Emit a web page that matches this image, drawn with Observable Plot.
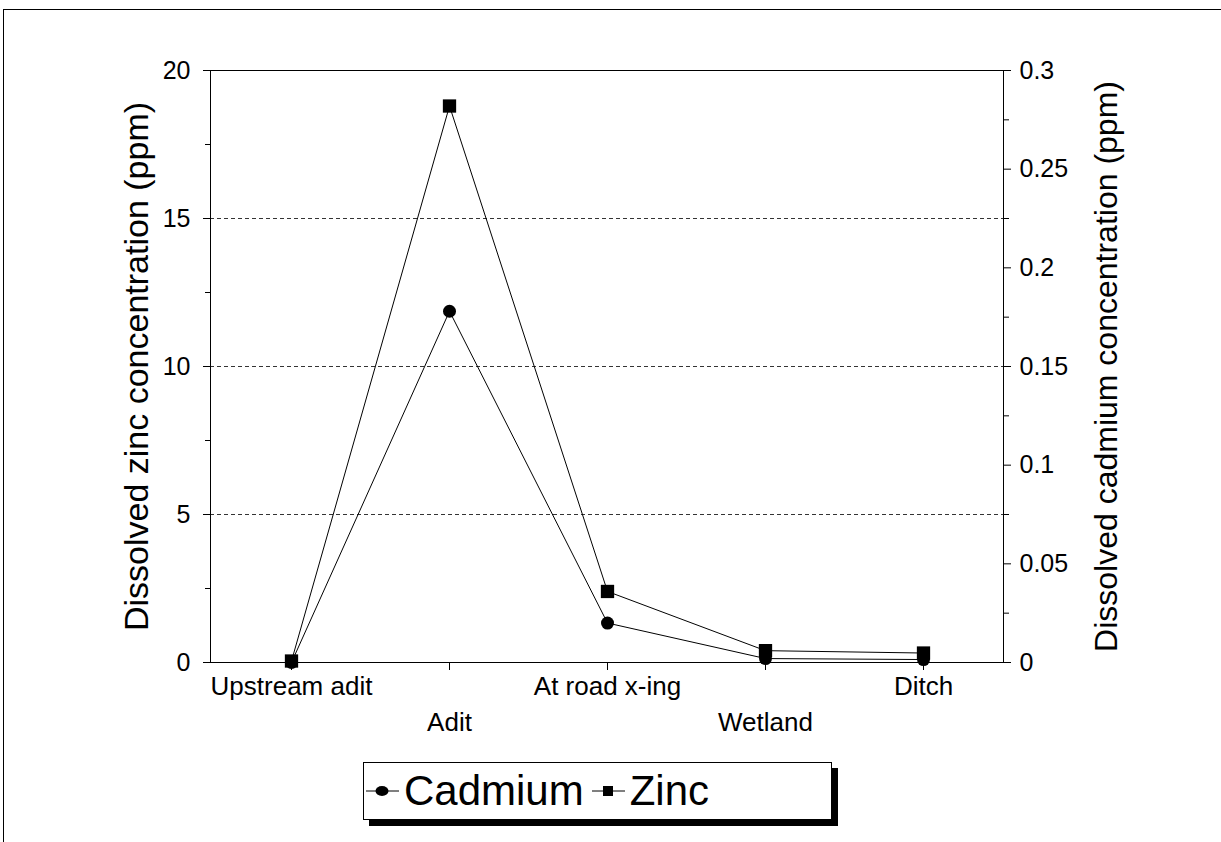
<!DOCTYPE html>
<html><head><meta charset="utf-8">
<script src="https://cdn.jsdelivr.net/npm/d3@7"></script>
<script src="https://cdn.jsdelivr.net/npm/@observablehq/plot@0.6"></script>
<style>
body{margin:0;background:#fff;font-family:"Liberation Sans",Arial,sans-serif;}
#wrap{position:relative;width:1221px;height:842px;overflow:hidden;background:#fff;}
#border{position:absolute;left:3px;top:9px;right:-5px;bottom:-5px;border-left:1px solid #000;border-top:1px solid #000;}
#chart{position:absolute;left:0;top:0;}
#legend{position:absolute;left:363px;top:762px;width:467px;height:56px;border:1px solid #000;box-shadow:6px 6px 0 #000;background:#fff;display:flex;align-items:center;font-size:42px;color:#000;line-height:1;}
#legend .item{display:flex;align-items:center;}
#legend svg{display:block;}
</style></head>
<body>
<div id="wrap"><div id="border"></div><div id="chart"></div><div id="legend"></div></div>
<script>
const sites = ["Upstream adit", "Adit", "At road x-ing", "Wetland", "Ditch"];
const zinc = [0.05, 18.8, 2.4, 0.4, 0.32];
const cadmium = [0.0, 0.178, 0.02, 0.002, 0.0015];
const zincTicks = [0, 5, 10, 15, 20];
const zincMinorTicks = [2.5, 7.5, 12.5, 17.5];
const cadmiumTicks = [0, 0.05, 0.1, 0.15, 0.2, 0.25, 0.3];
const cadmiumMinorTicks = [0.025, 0.075, 0.125, 0.175, 0.225, 0.275];
const gridValues = [5, 10, 15];
const seriesNames = ["Cadmium", "Zinc"];

const k = 20 / 0.3; // cadmium -> zinc axis scale
const zData = sites.map((s, i) => ({site: s, v: zinc[i]}));
const cData = sites.map((s, i) => ({site: s, v: cadmium[i] * k}));
const fmtCd = v => String(+(v / k).toFixed(3));

const plot = Plot.plot({
  width: 1221,
  height: 750,
  marginLeft: 210,
  marginRight: 218,
  marginTop: 70,
  marginBottom: 88,
  style: {fontFamily: "Liberation Sans, Arial, sans-serif", background: "transparent", color: "#000"},
  x: {type: "point", domain: sites, padding: 0.5},
  y: {domain: [0, 20]},
  marks: [
    Plot.ruleY(gridValues, {stroke: "#000", strokeWidth: 0.8, strokeDasharray: "4,3"}),
    Plot.frame({stroke: "#000", strokeWidth: 1}),
    Plot.axisY(zincTicks, {anchor: "left", tickSize: 7, tickPadding: 13, fontSize: 25, label: null}),
    Plot.axisY(zincMinorTicks, {anchor: "left", tickSize: 5, tickFormat: () => "", label: null}),
    Plot.axisY(cadmiumTicks.map(v => v * k), {anchor: "right", tickSize: 7, tickPadding: 9, fontSize: 25, tickFormat: fmtCd, label: null}),
    Plot.axisY(cadmiumMinorTicks.map(v => v * k), {anchor: "right", tickSize: 5, tickFormat: () => "", label: null}),
    Plot.axisX(sites.filter((d, i) => i % 2 === 0), {tickSize: 8, tickPadding: 6, fontSize: 26, label: null}),
    Plot.axisX(sites.filter((d, i) => i % 2 === 1), {tickSize: 8, tickPadding: 42, fontSize: 26, label: null}),
    Plot.text(["Dissolved zinc concentration (ppm)"], {frameAnchor: "left", textAnchor: "middle", lineAnchor: "middle", dx: -73, rotate: -90, fontSize: 34}),
    Plot.text(["Dissolved cadmium concentration (ppm)"], {frameAnchor: "right", textAnchor: "middle", lineAnchor: "middle", dx: 103, rotate: -90, fontSize: 32}),
    Plot.line(cData, {x: "site", y: "v", stroke: "#000", strokeWidth: 1}),
    Plot.line(zData, {x: "site", y: "v", stroke: "#000", strokeWidth: 1}),
    Plot.dot(cData, {x: "site", y: "v", r: 6.5, fill: "#000", symbol: "circle"}),
    Plot.dot(zData, {x: "site", y: "v", r: 7.5, fill: "#000", symbol: "square"})
  ]
});
document.getElementById("chart").appendChild(plot);

// legend
const legend = document.getElementById("legend");
const symbols = {Cadmium: "circle", Zinc: "square"};
seriesNames.forEach((name, i) => {
  const item = document.createElement("div");
  item.className = "item";
  item.style.marginLeft = i === 0 ? "2px" : "8px";
  const icon = `<svg width="33" height="20" viewBox="0 0 33 20">
    <line x1="0" y1="10" x2="33" y2="10" stroke="#000" stroke-width="1"/>
    ${symbols[name] === "circle"
      ? '<ellipse cx="16" cy="10" rx="6.5" ry="5" fill="#000"/>'
      : '<rect x="11" y="5" width="10" height="10" fill="#000"/>'}
  </svg>`;
  item.innerHTML = icon + `<span style="margin-left:5px">${name}</span>`;
  legend.appendChild(item);
});
</script>
</body></html>
